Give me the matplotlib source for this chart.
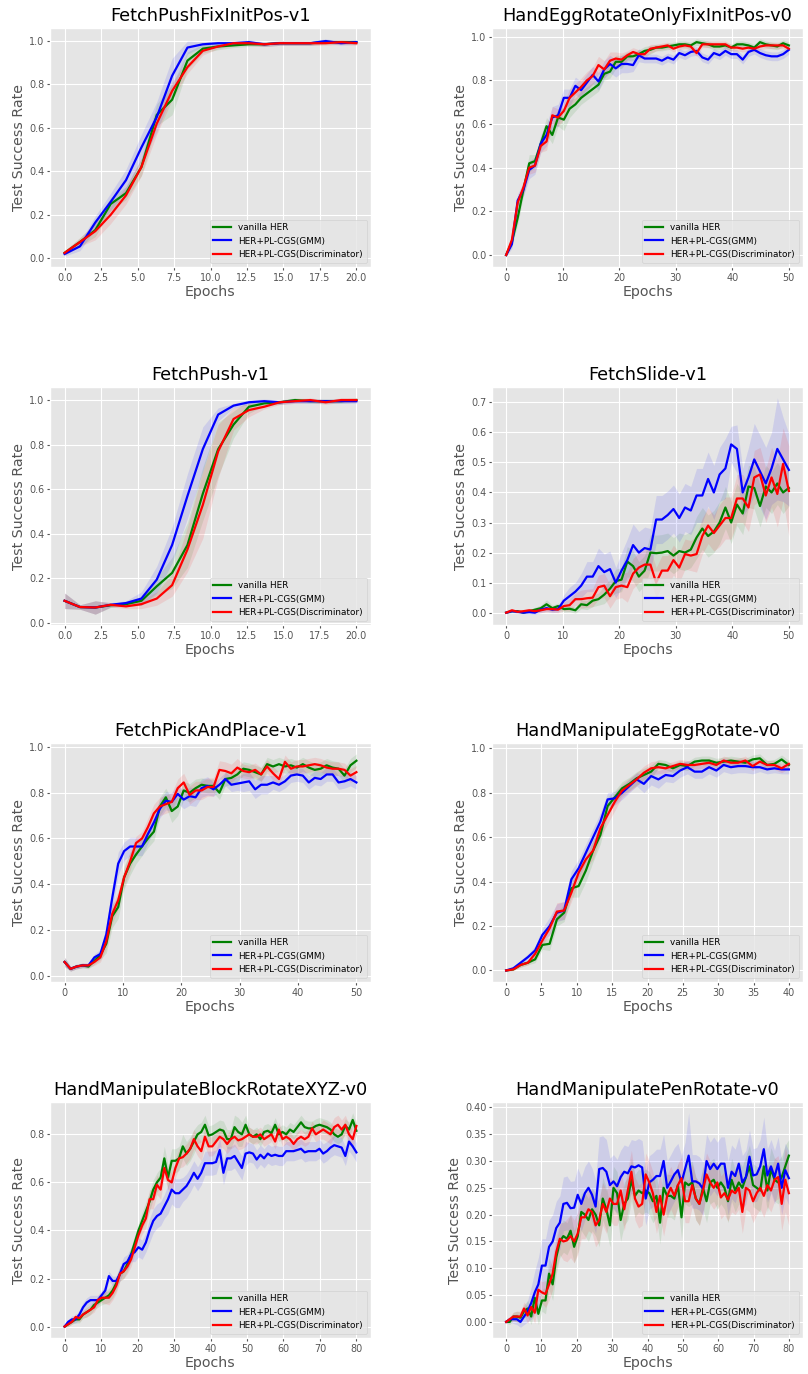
import numpy as np
import matplotlib
matplotlib.use("Agg")
import matplotlib.pyplot as plt
from matplotlib.ticker import MultipleLocator

plt.style.use('ggplot')

series_names = ['vanilla HER', 'HER+PL-CGS(GMM)', 'HER+PL-CGS(Discriminator)']
series_colors = ['g', 'b', 'r']

titles = ['FetchPushFixInitPos-v1', 'HandEggRotateOnlyFixInitPos-v0',
          'FetchPush-v1', 'FetchSlide-v1',
          'FetchPickAndPlace-v1', 'HandManipulateEggRotate-v0',
          'HandManipulateBlockRotateXYZ-v0', 'HandManipulatePenRotate-v0']
max_epochs = [20, 50, 20, 50, 50, 40, 80, 80]

# ---- FetchPushFixInitPos-v1 ----
p1_her = [0.025, 0.075, 0.13, 0.25, 0.30, 0.42, 0.66, 0.73, 0.91, 0.965,
          0.975, 0.98, 0.985, 0.985, 0.99, 0.99, 0.99, 0.995, 0.995, 0.995]
p1_gmm = [0.02, 0.055, 0.165, 0.26, 0.36, 0.51, 0.65, 0.84, 0.97, 0.985,
          0.99, 0.99, 0.995, 0.985, 0.99, 0.99, 0.99, 1.0, 0.99, 0.995]
p1_dis = [0.025, 0.075, 0.125, 0.20, 0.29, 0.42, 0.62, 0.77, 0.88, 0.955,
          0.975, 0.99, 0.99, 0.985, 0.99, 0.99, 0.99, 0.99, 0.995, 0.99]
p1_her_sd = [0.01, 0.02, 0.03, 0.03, 0.03, 0.04, 0.05, 0.07, 0.04, 0.02,
             0.015, 0.01, 0.01, 0.01, 0.01, 0.01, 0.01, 0.01, 0.01, 0.01]
p1_gmm_sd = [0.01, 0.02, 0.03, 0.04, 0.05, 0.06, 0.07, 0.08, 0.03, 0.01,
             0.01, 0.01, 0.01, 0.01, 0.01, 0.01, 0.01, 0.01, 0.01, 0.01]
p1_dis_sd = [0.01, 0.02, 0.04, 0.04, 0.04, 0.04, 0.05, 0.04, 0.03, 0.02,
             0.01, 0.01, 0.01, 0.01, 0.01, 0.01, 0.01, 0.01, 0.01, 0.01]

# ---- HandEggRotateOnlyFixInitPos-v0 ----
p2_her = [0.0, 0.06, 0.17, 0.30, 0.42, 0.43, 0.51, 0.59, 0.55, 0.63,
          0.62, 0.67, 0.69, 0.72, 0.74, 0.76, 0.78, 0.83, 0.84, 0.885,
          0.885, 0.91, 0.91, 0.92, 0.935, 0.94, 0.95, 0.95, 0.955, 0.96,
          0.965, 0.965, 0.96, 0.975, 0.97, 0.965, 0.955, 0.955, 0.96, 0.95,
          0.965, 0.965, 0.96, 0.95, 0.975, 0.965, 0.96, 0.955, 0.97, 0.96]
p2_gmm = [0.0, 0.05, 0.25, 0.30, 0.39, 0.41, 0.51, 0.55, 0.63, 0.64,
          0.72, 0.72, 0.775, 0.755, 0.79, 0.825, 0.795, 0.85, 0.875, 0.855,
          0.875, 0.875, 0.87, 0.915, 0.90, 0.90, 0.90, 0.89, 0.905, 0.895,
          0.925, 0.915, 0.93, 0.935, 0.905, 0.895, 0.925, 0.915, 0.935, 0.92,
          0.92, 0.895, 0.93, 0.94, 0.925, 0.915, 0.91, 0.91, 0.92, 0.94]
p2_dis = [0.0, 0.07, 0.24, 0.31, 0.40, 0.41, 0.50, 0.52, 0.64, 0.63,
          0.66, 0.72, 0.745, 0.77, 0.80, 0.82, 0.87, 0.85, 0.89, 0.90,
          0.895, 0.915, 0.93, 0.92, 0.92, 0.945, 0.95, 0.955, 0.96, 0.945,
          0.955, 0.96, 0.955, 0.925, 0.965, 0.965, 0.965, 0.965, 0.965, 0.95,
          0.95, 0.945, 0.95, 0.945, 0.955, 0.96, 0.96, 0.96, 0.96, 0.945]
p2_her_sd = [0.005, 0.02, 0.03, 0.03, 0.04, 0.03, 0.03, 0.04, 0.04, 0.04,
             0.05, 0.04, 0.03, 0.03, 0.03, 0.03, 0.03, 0.03, 0.03, 0.03,
             0.03, 0.02, 0.02, 0.02, 0.02, 0.02, 0.015, 0.015, 0.015, 0.015,
             0.015, 0.015, 0.015, 0.015, 0.015, 0.015, 0.015, 0.015, 0.015, 0.015,
             0.015, 0.015, 0.015, 0.015, 0.015, 0.015, 0.015, 0.015, 0.015, 0.015]
p2_gmm_sd = [0.005, 0.02, 0.03, 0.03, 0.04, 0.04, 0.04, 0.05, 0.05, 0.05,
             0.04, 0.04, 0.04, 0.04, 0.04, 0.04, 0.04, 0.04, 0.04, 0.04,
             0.04, 0.04, 0.03, 0.03, 0.02, 0.02, 0.02, 0.02, 0.02, 0.02,
             0.02, 0.02, 0.02, 0.02, 0.02, 0.02, 0.02, 0.02, 0.02, 0.02,
             0.02, 0.02, 0.02, 0.02, 0.02, 0.02, 0.02, 0.02, 0.02, 0.02]
p2_dis_sd = [0.005, 0.02, 0.03, 0.03, 0.03, 0.03, 0.03, 0.04, 0.04, 0.04,
             0.04, 0.04, 0.04, 0.04, 0.04, 0.04, 0.04, 0.04, 0.04, 0.03,
             0.03, 0.02, 0.02, 0.02, 0.02, 0.02, 0.015, 0.015, 0.015, 0.015,
             0.015, 0.015, 0.015, 0.015, 0.015, 0.015, 0.015, 0.015, 0.015, 0.015,
             0.015, 0.015, 0.015, 0.015, 0.015, 0.015, 0.015, 0.015, 0.015, 0.015]

# ---- FetchPush-v1 ----
p3_her = [0.10, 0.072, 0.07, 0.08, 0.085, 0.10, 0.165, 0.225, 0.35, 0.58,
          0.78, 0.89, 0.97, 0.985, 0.99, 1.0, 0.995, 0.995, 0.995, 1.0]
p3_gmm = [0.10, 0.072, 0.07, 0.082, 0.09, 0.11, 0.195, 0.35, 0.57, 0.78,
          0.935, 0.975, 0.99, 0.995, 0.99, 0.995, 0.995, 0.995, 0.995, 0.995]
p3_dis = [0.10, 0.072, 0.07, 0.082, 0.075, 0.085, 0.11, 0.17, 0.33, 0.53,
          0.77, 0.915, 0.955, 0.97, 0.99, 0.995, 1.0, 0.99, 1.0, 1.0]
p3_her_sd = [0.035, 0.01, 0.03, 0.01, 0.01, 0.02, 0.04, 0.07, 0.10, 0.12,
             0.12, 0.06, 0.03, 0.01, 0.01, 0.01, 0.01, 0.01, 0.01, 0.01]
p3_gmm_sd = [0.035, 0.01, 0.03, 0.01, 0.01, 0.03, 0.06, 0.08, 0.10, 0.10,
             0.03, 0.01, 0.01, 0.01, 0.01, 0.01, 0.01, 0.01, 0.01, 0.01]
p3_dis_sd = [0.035, 0.01, 0.03, 0.01, 0.01, 0.02, 0.03, 0.05, 0.10, 0.15,
             0.12, 0.05, 0.03, 0.01, 0.01, 0.01, 0.01, 0.01, 0.01, 0.01]

# ---- FetchSlide-v1 ----
p4_her = [0.0, 0.005, 0.005, 0.0, 0.005, 0.01, 0.015, 0.028, 0.015, 0.022,
          0.012, 0.013, 0.008, 0.028, 0.025, 0.04, 0.045, 0.06, 0.08, 0.105,
          0.11, 0.17, 0.155, 0.12, 0.14, 0.20, 0.198, 0.20, 0.205, 0.19,
          0.205, 0.20, 0.21, 0.25, 0.28, 0.255, 0.27, 0.30, 0.35, 0.30,
          0.36, 0.33, 0.42, 0.415, 0.355, 0.42, 0.40, 0.43, 0.40, 0.415]
p4_gmm = [0.0, 0.005, 0.003, 0.0, 0.002, 0.0, 0.01, 0.015, 0.01, 0.012,
          0.04, 0.055, 0.07, 0.09, 0.12, 0.12, 0.155, 0.135, 0.145, 0.10,
          0.14, 0.175, 0.225, 0.20, 0.215, 0.21, 0.31, 0.31, 0.325, 0.345,
          0.315, 0.35, 0.34, 0.39, 0.39, 0.445, 0.40, 0.46, 0.48, 0.56,
          0.545, 0.40, 0.45, 0.51, 0.47, 0.43, 0.48, 0.545, 0.51, 0.475]
p4_dis = [0.0, 0.008, 0.003, 0.005, 0.008, 0.005, 0.008, 0.012, 0.012, 0.01,
          0.022, 0.025, 0.045, 0.045, 0.048, 0.05, 0.085, 0.09, 0.055, 0.085,
          0.09, 0.085, 0.13, 0.15, 0.16, 0.16, 0.10, 0.14, 0.14, 0.175,
          0.15, 0.195, 0.19, 0.195, 0.255, 0.29, 0.265, 0.29, 0.315, 0.315,
          0.38, 0.38, 0.35, 0.45, 0.46, 0.39, 0.45, 0.395, 0.495, 0.405]
p4_her_sd = [0.003, 0.005, 0.005, 0.003, 0.005, 0.008, 0.01, 0.015, 0.01, 0.01,
             0.01, 0.01, 0.01, 0.015, 0.015, 0.02, 0.02, 0.03, 0.03, 0.04,
             0.04, 0.05, 0.05, 0.05, 0.05, 0.06, 0.06, 0.06, 0.06, 0.06,
             0.06, 0.06, 0.06, 0.07, 0.07, 0.07, 0.07, 0.07, 0.07, 0.07,
             0.07, 0.07, 0.07, 0.07, 0.07, 0.07, 0.07, 0.07, 0.07, 0.06]
p4_gmm_sd = [0.003, 0.005, 0.005, 0.003, 0.005, 0.005, 0.01, 0.01, 0.01, 0.01,
             0.02, 0.03, 0.03, 0.04, 0.05, 0.05, 0.06, 0.06, 0.06, 0.05,
             0.06, 0.07, 0.07, 0.07, 0.07, 0.07, 0.08, 0.08, 0.08, 0.08,
             0.08, 0.08, 0.08, 0.09, 0.09, 0.09, 0.09, 0.09, 0.10, 0.06,
             0.08, 0.08, 0.10, 0.12, 0.12, 0.12, 0.12, 0.17, 0.14, 0.12]
p4_dis_sd = [0.003, 0.005, 0.005, 0.003, 0.005, 0.005, 0.008, 0.01, 0.01, 0.01,
             0.015, 0.02, 0.02, 0.03, 0.03, 0.03, 0.04, 0.04, 0.04, 0.04,
             0.04, 0.05, 0.05, 0.05, 0.05, 0.05, 0.05, 0.05, 0.05, 0.05,
             0.05, 0.05, 0.05, 0.06, 0.06, 0.06, 0.06, 0.07, 0.07, 0.07,
             0.08, 0.08, 0.08, 0.09, 0.09, 0.09, 0.10, 0.11, 0.12, 0.15]

# ---- FetchPickAndPlace-v1 ----
p5_her = [0.06, 0.03, 0.04, 0.045, 0.04, 0.065, 0.09, 0.14, 0.26, 0.30,
          0.43, 0.49, 0.53, 0.565, 0.60, 0.63, 0.74, 0.78, 0.72, 0.74,
          0.81, 0.80, 0.82, 0.835, 0.83, 0.83, 0.80, 0.86, 0.865, 0.88,
          0.905, 0.90, 0.89, 0.88, 0.925, 0.915, 0.925, 0.915, 0.92, 0.91,
          0.925, 0.91, 0.90, 0.905, 0.92, 0.91, 0.905, 0.875, 0.92, 0.94]
p5_gmm = [0.06, 0.03, 0.04, 0.045, 0.045, 0.08, 0.095, 0.18, 0.34, 0.49,
          0.545, 0.565, 0.565, 0.565, 0.62, 0.67, 0.73, 0.765, 0.76, 0.795,
          0.77, 0.785, 0.78, 0.82, 0.83, 0.815, 0.835, 0.86, 0.835, 0.84,
          0.845, 0.85, 0.815, 0.835, 0.835, 0.845, 0.835, 0.85, 0.875, 0.88,
          0.875, 0.845, 0.865, 0.86, 0.88, 0.88, 0.845, 0.85, 0.86, 0.845]
p5_dis = [0.06, 0.03, 0.04, 0.045, 0.045, 0.06, 0.08, 0.15, 0.27, 0.33,
          0.43, 0.50, 0.58, 0.60, 0.65, 0.71, 0.74, 0.75, 0.76, 0.82,
          0.845, 0.79, 0.81, 0.81, 0.825, 0.825, 0.90, 0.895, 0.885, 0.91,
          0.895, 0.89, 0.90, 0.88, 0.915, 0.885, 0.86, 0.935, 0.905, 0.915,
          0.915, 0.92, 0.925, 0.92, 0.91, 0.905, 0.905, 0.90, 0.875, 0.89]
p5_her_sd = [0.02, 0.01, 0.01, 0.01, 0.01, 0.015, 0.02, 0.04, 0.05, 0.05,
             0.05, 0.05, 0.04, 0.04, 0.04, 0.04, 0.04, 0.04, 0.05, 0.04,
             0.04, 0.04, 0.04, 0.03, 0.03, 0.03, 0.03, 0.03, 0.03, 0.03,
             0.03, 0.03, 0.03, 0.03, 0.03, 0.03, 0.03, 0.03, 0.03, 0.03,
             0.03, 0.03, 0.03, 0.03, 0.03, 0.03, 0.03, 0.03, 0.03, 0.03]
p5_gmm_sd = [0.02, 0.01, 0.01, 0.01, 0.01, 0.015, 0.02, 0.04, 0.05, 0.05,
             0.04, 0.04, 0.04, 0.04, 0.04, 0.04, 0.04, 0.04, 0.04, 0.04,
             0.04, 0.04, 0.04, 0.04, 0.04, 0.03, 0.03, 0.03, 0.03, 0.03,
             0.04, 0.04, 0.04, 0.04, 0.04, 0.03, 0.03, 0.03, 0.03, 0.03,
             0.03, 0.03, 0.03, 0.03, 0.03, 0.03, 0.03, 0.03, 0.03, 0.03]
p5_dis_sd = [0.02, 0.01, 0.01, 0.01, 0.01, 0.015, 0.02, 0.03, 0.04, 0.04,
             0.04, 0.04, 0.03, 0.03, 0.04, 0.04, 0.04, 0.04, 0.04, 0.04,
             0.04, 0.04, 0.04, 0.04, 0.04, 0.04, 0.04, 0.04, 0.04, 0.04,
             0.03, 0.03, 0.03, 0.03, 0.03, 0.03, 0.03, 0.03, 0.03, 0.03,
             0.03, 0.03, 0.03, 0.03, 0.03, 0.03, 0.03, 0.03, 0.03, 0.03]

# ---- HandManipulateEggRotate-v0 ----
p6_her = [0.0, 0.005, 0.025, 0.035, 0.05, 0.115, 0.12, 0.23, 0.26, 0.37,
          0.38, 0.45, 0.54, 0.61, 0.74, 0.78, 0.82, 0.84, 0.865, 0.88,
          0.895, 0.93, 0.925, 0.91, 0.925, 0.92, 0.94, 0.945, 0.945, 0.935,
          0.94, 0.945, 0.94, 0.935, 0.95, 0.955, 0.925, 0.93, 0.95, 0.925]
p6_gmm = [0.0, 0.01, 0.035, 0.06, 0.09, 0.16, 0.20, 0.26, 0.27, 0.41,
          0.46, 0.53, 0.60, 0.67, 0.77, 0.775, 0.80, 0.83, 0.86, 0.84,
          0.875, 0.86, 0.88, 0.875, 0.90, 0.915, 0.895, 0.895, 0.915, 0.90,
          0.925, 0.915, 0.92, 0.92, 0.915, 0.915, 0.905, 0.91, 0.905, 0.905]
p6_dis = [0.0, 0.005, 0.025, 0.035, 0.075, 0.135, 0.19, 0.265, 0.27, 0.35,
          0.44, 0.50, 0.54, 0.64, 0.70, 0.76, 0.81, 0.835, 0.86, 0.89,
          0.91, 0.915, 0.91, 0.92, 0.93, 0.925, 0.925, 0.93, 0.935, 0.925,
          0.945, 0.935, 0.935, 0.945, 0.92, 0.94, 0.925, 0.925, 0.91, 0.93]
p6_her_sd = [0.003, 0.005, 0.01, 0.01, 0.015, 0.02, 0.03, 0.03, 0.04, 0.04,
             0.05, 0.05, 0.05, 0.04, 0.04, 0.03, 0.03, 0.03, 0.03, 0.03,
             0.03, 0.02, 0.02, 0.02, 0.02, 0.02, 0.02, 0.02, 0.02, 0.02,
             0.02, 0.02, 0.02, 0.02, 0.02, 0.02, 0.02, 0.02, 0.02, 0.02]
p6_gmm_sd = [0.003, 0.005, 0.01, 0.015, 0.02, 0.03, 0.04, 0.04, 0.04, 0.04,
             0.04, 0.04, 0.04, 0.04, 0.03, 0.03, 0.03, 0.03, 0.03, 0.04,
             0.04, 0.04, 0.03, 0.03, 0.03, 0.03, 0.03, 0.03, 0.03, 0.03,
             0.03, 0.03, 0.03, 0.03, 0.03, 0.02, 0.02, 0.02, 0.02, 0.02]
p6_dis_sd = [0.003, 0.005, 0.01, 0.01, 0.015, 0.02, 0.03, 0.04, 0.04, 0.04,
             0.04, 0.04, 0.04, 0.04, 0.04, 0.04, 0.03, 0.03, 0.03, 0.03,
             0.03, 0.03, 0.02, 0.02, 0.02, 0.02, 0.02, 0.02, 0.02, 0.02,
             0.02, 0.02, 0.02, 0.02, 0.02, 0.02, 0.02, 0.02, 0.02, 0.02]

# ---- HandManipulateBlockRotateXYZ-v0 ----
p7_her = [0.0, 0.01, 0.02, 0.03, 0.03, 0.05, 0.06, 0.07, 0.09, 0.10,
          0.11, 0.12, 0.13, 0.15, 0.18, 0.22, 0.23, 0.26, 0.30, 0.35,
          0.40, 0.44, 0.48, 0.52, 0.57, 0.60, 0.62, 0.70, 0.62, 0.69,
          0.69, 0.70, 0.75, 0.72, 0.74, 0.77, 0.80, 0.81, 0.84, 0.795,
          0.80, 0.81, 0.82, 0.815, 0.78, 0.78, 0.83, 0.81, 0.80, 0.84,
          0.80, 0.79, 0.80, 0.78, 0.81, 0.815, 0.805, 0.84, 0.80, 0.81,
          0.80, 0.82, 0.81, 0.83, 0.85, 0.83, 0.825, 0.825, 0.835, 0.84,
          0.835, 0.83, 0.82, 0.80, 0.79, 0.80, 0.835, 0.82, 0.86, 0.815]
p7_gmm = [0.0, 0.02, 0.03, 0.03, 0.05, 0.08, 0.10, 0.11, 0.11, 0.11,
          0.13, 0.15, 0.21, 0.19, 0.19, 0.22, 0.26, 0.27, 0.30, 0.31,
          0.33, 0.32, 0.35, 0.40, 0.44, 0.46, 0.47, 0.50, 0.53, 0.57,
          0.555, 0.555, 0.57, 0.585, 0.61, 0.64, 0.615, 0.64, 0.68, 0.68,
          0.68, 0.685, 0.735, 0.64, 0.70, 0.70, 0.71, 0.685, 0.66, 0.72,
          0.725, 0.72, 0.695, 0.715, 0.70, 0.72, 0.71, 0.715, 0.71, 0.71,
          0.73, 0.73, 0.73, 0.735, 0.74, 0.725, 0.73, 0.73, 0.73, 0.74,
          0.72, 0.73, 0.745, 0.755, 0.75, 0.745, 0.71, 0.77, 0.75, 0.725]
p7_dis = [0.0, 0.01, 0.02, 0.04, 0.035, 0.05, 0.06, 0.07, 0.08, 0.11,
          0.12, 0.12, 0.12, 0.14, 0.17, 0.22, 0.23, 0.25, 0.28, 0.33,
          0.38, 0.42, 0.45, 0.53, 0.53, 0.59, 0.57, 0.66, 0.61, 0.60,
          0.66, 0.70, 0.705, 0.72, 0.74, 0.78, 0.75, 0.73, 0.79, 0.75,
          0.75, 0.77, 0.79, 0.78, 0.76, 0.78, 0.79, 0.775, 0.78, 0.79,
          0.80, 0.79, 0.79, 0.80, 0.78, 0.79, 0.80, 0.77, 0.82, 0.78,
          0.79, 0.78, 0.76, 0.78, 0.79, 0.78, 0.79, 0.825, 0.80, 0.81,
          0.82, 0.81, 0.80, 0.83, 0.84, 0.82, 0.84, 0.80, 0.78, 0.835]
p7_her_sd = [0.003, 0.01, 0.01, 0.015, 0.015, 0.015, 0.02, 0.02, 0.02, 0.02,
             0.02, 0.025, 0.03, 0.03, 0.03, 0.03, 0.03, 0.03, 0.03, 0.03,
             0.03, 0.035, 0.04, 0.04, 0.04, 0.04, 0.04, 0.05, 0.05, 0.05,
             0.05, 0.05, 0.05, 0.05, 0.05, 0.05, 0.04, 0.04, 0.04, 0.04,
             0.04, 0.04, 0.04, 0.04, 0.04, 0.04, 0.05, 0.06, 0.05, 0.04,
             0.03, 0.03, 0.03, 0.03, 0.03, 0.03, 0.03, 0.03, 0.03, 0.03,
             0.03, 0.03, 0.03, 0.03, 0.03, 0.03, 0.03, 0.03, 0.03, 0.03,
             0.03, 0.03, 0.03, 0.03, 0.03, 0.03, 0.03, 0.03, 0.03, 0.03]
p7_gmm_sd = [0.003, 0.01, 0.015, 0.015, 0.02, 0.02, 0.02, 0.02, 0.02, 0.02,
             0.02, 0.02, 0.02, 0.02, 0.02, 0.03, 0.03, 0.03, 0.03, 0.04,
             0.04, 0.04, 0.04, 0.05, 0.05, 0.05, 0.05, 0.05, 0.06, 0.06,
             0.06, 0.06, 0.05, 0.05, 0.05, 0.05, 0.05, 0.05, 0.05, 0.05,
             0.05, 0.05, 0.05, 0.05, 0.05, 0.05, 0.05, 0.05, 0.05, 0.05,
             0.04, 0.04, 0.04, 0.04, 0.04, 0.04, 0.04, 0.04, 0.04, 0.04,
             0.04, 0.04, 0.04, 0.04, 0.04, 0.04, 0.04, 0.04, 0.04, 0.04,
             0.04, 0.04, 0.04, 0.04, 0.04, 0.04, 0.04, 0.04, 0.04, 0.04]
p7_dis_sd = [0.003, 0.01, 0.01, 0.015, 0.015, 0.015, 0.02, 0.02, 0.02, 0.02,
             0.02, 0.025, 0.03, 0.03, 0.03, 0.03, 0.03, 0.03, 0.03, 0.03,
             0.03, 0.035, 0.04, 0.04, 0.04, 0.04, 0.04, 0.04, 0.04, 0.04,
             0.04, 0.04, 0.04, 0.04, 0.04, 0.04, 0.04, 0.04, 0.04, 0.04,
             0.04, 0.04, 0.04, 0.04, 0.04, 0.04, 0.04, 0.04, 0.04, 0.04,
             0.03, 0.03, 0.03, 0.03, 0.03, 0.03, 0.03, 0.03, 0.03, 0.03,
             0.03, 0.03, 0.03, 0.03, 0.03, 0.03, 0.03, 0.03, 0.03, 0.03,
             0.04, 0.04, 0.04, 0.04, 0.04, 0.04, 0.04, 0.04, 0.04, 0.03]

# ---- HandManipulatePenRotate-v0 ----
p8_her = [0.0, 0.0, 0.01, 0.01, 0.008, 0.02, 0.025, 0.01, 0.045, 0.015,
          0.04, 0.04, 0.09, 0.07, 0.12, 0.15, 0.16, 0.155, 0.17, 0.14,
          0.16, 0.205, 0.20, 0.19, 0.21, 0.20, 0.18, 0.23, 0.21, 0.18,
          0.25, 0.24, 0.19, 0.22, 0.23, 0.265, 0.235, 0.245, 0.24, 0.245,
          0.24, 0.225, 0.235, 0.185, 0.25, 0.235, 0.235, 0.23, 0.255, 0.195,
          0.26, 0.255, 0.26, 0.23, 0.22, 0.25, 0.225, 0.26, 0.265, 0.25,
          0.26, 0.25, 0.225, 0.265, 0.245, 0.26, 0.25, 0.27, 0.29, 0.255,
          0.25, 0.245, 0.29, 0.245, 0.285, 0.265, 0.26, 0.27, 0.29, 0.31]
p8_gmm = [0.0, 0.005, 0.005, 0.005, 0.0, 0.01, 0.02, 0.035, 0.055, 0.07,
          0.105, 0.105, 0.14, 0.15, 0.175, 0.185, 0.22, 0.222, 0.212, 0.213,
          0.237, 0.22, 0.24, 0.25, 0.237, 0.215, 0.285, 0.287, 0.28, 0.255,
          0.262, 0.253, 0.27, 0.28, 0.277, 0.29, 0.288, 0.292, 0.288, 0.23,
          0.26, 0.265, 0.272, 0.272, 0.30, 0.25, 0.262, 0.275, 0.283, 0.26,
          0.285, 0.31, 0.262, 0.262, 0.258, 0.248, 0.30, 0.285, 0.295, 0.285,
          0.295, 0.295, 0.25, 0.28, 0.272, 0.295, 0.26, 0.27, 0.308, 0.273,
          0.275, 0.29, 0.322, 0.273, 0.29, 0.27, 0.295, 0.25, 0.283, 0.268]
p8_dis = [0.0, 0.005, 0.01, 0.01, 0.01, 0.025, 0.012, 0.028, 0.017, 0.06,
          0.055, 0.052, 0.07, 0.09, 0.13, 0.155, 0.15, 0.152, 0.16, 0.15,
          0.165, 0.195, 0.195, 0.21, 0.205, 0.18, 0.19, 0.22, 0.205, 0.23,
          0.22, 0.22, 0.245, 0.21, 0.245, 0.28, 0.23, 0.215, 0.22, 0.275,
          0.26, 0.24, 0.205, 0.235, 0.20, 0.235, 0.25, 0.235, 0.255, 0.268,
          0.225, 0.225, 0.255, 0.23, 0.22, 0.245, 0.275, 0.26, 0.25, 0.26,
          0.232, 0.24, 0.228, 0.245, 0.24, 0.25, 0.205, 0.25, 0.245, 0.225,
          0.24, 0.25, 0.235, 0.255, 0.245, 0.265, 0.27, 0.22, 0.265, 0.24]
p8_her_sd = [0.002, 0.005, 0.008, 0.01, 0.01, 0.012, 0.015, 0.015, 0.02, 0.02,
             0.02, 0.025, 0.03, 0.03, 0.03, 0.03, 0.03, 0.03, 0.03, 0.03,
             0.03, 0.035, 0.04, 0.04, 0.04, 0.04, 0.04, 0.04, 0.04, 0.04,
             0.04, 0.04, 0.04, 0.04, 0.04, 0.04, 0.04, 0.04, 0.04, 0.04,
             0.04, 0.04, 0.04, 0.04, 0.04, 0.04, 0.04, 0.04, 0.04, 0.04,
             0.04, 0.04, 0.04, 0.04, 0.04, 0.04, 0.04, 0.04, 0.04, 0.04,
             0.04, 0.04, 0.04, 0.04, 0.04, 0.04, 0.04, 0.04, 0.04, 0.04,
             0.04, 0.04, 0.04, 0.04, 0.04, 0.04, 0.04, 0.04, 0.04, 0.03]
p8_gmm_sd = [0.002, 0.005, 0.008, 0.01, 0.01, 0.015, 0.02, 0.03, 0.04, 0.05,
             0.05, 0.05, 0.05, 0.05, 0.05, 0.05, 0.05, 0.05, 0.05, 0.05,
             0.05, 0.05, 0.05, 0.05, 0.05, 0.05, 0.06, 0.06, 0.06, 0.05,
             0.05, 0.05, 0.05, 0.05, 0.05, 0.05, 0.05, 0.05, 0.05, 0.05,
             0.05, 0.05, 0.05, 0.05, 0.05, 0.05, 0.05, 0.05, 0.05, 0.05,
             0.05, 0.08, 0.05, 0.05, 0.05, 0.05, 0.05, 0.05, 0.05, 0.05,
             0.05, 0.05, 0.05, 0.05, 0.05, 0.05, 0.05, 0.05, 0.05, 0.05,
             0.05, 0.05, 0.06, 0.05, 0.05, 0.05, 0.05, 0.05, 0.05, 0.05]
p8_dis_sd = [0.002, 0.005, 0.008, 0.01, 0.01, 0.012, 0.015, 0.015, 0.02, 0.02,
             0.02, 0.025, 0.03, 0.03, 0.03, 0.03, 0.035, 0.04, 0.04, 0.04,
             0.04, 0.04, 0.04, 0.04, 0.04, 0.04, 0.04, 0.04, 0.04, 0.04,
             0.04, 0.04, 0.04, 0.04, 0.04, 0.04, 0.04, 0.04, 0.04, 0.04,
             0.04, 0.04, 0.04, 0.04, 0.04, 0.04, 0.04, 0.04, 0.04, 0.04,
             0.04, 0.04, 0.04, 0.04, 0.04, 0.04, 0.04, 0.04, 0.04, 0.04,
             0.04, 0.04, 0.04, 0.04, 0.04, 0.04, 0.04, 0.04, 0.04, 0.04,
             0.04, 0.04, 0.04, 0.04, 0.04, 0.04, 0.04, 0.05, 0.06, 0.06]

means = [(p1_her, p1_gmm, p1_dis), (p2_her, p2_gmm, p2_dis),
         (p3_her, p3_gmm, p3_dis), (p4_her, p4_gmm, p4_dis),
         (p5_her, p5_gmm, p5_dis), (p6_her, p6_gmm, p6_dis),
         (p7_her, p7_gmm, p7_dis), (p8_her, p8_gmm, p8_dis)]
stds = [(p1_her_sd, p1_gmm_sd, p1_dis_sd), (p2_her_sd, p2_gmm_sd, p2_dis_sd),
        (p3_her_sd, p3_gmm_sd, p3_dis_sd), (p4_her_sd, p4_gmm_sd, p4_dis_sd),
        (p5_her_sd, p5_gmm_sd, p5_dis_sd), (p6_her_sd, p6_gmm_sd, p6_dis_sd),
        (p7_her_sd, p7_gmm_sd, p7_dis_sd), (p8_her_sd, p8_gmm_sd, p8_dis_sd)]

W, H = 808, 1374
fig = plt.figure(figsize=(W / 100, H / 100), dpi=100)

col_x = [(50, 321), (492, 311)]
row_y = [(28, 267), (387, 625), (743, 982), (1102, 1338)]

for k in range(8):
    r, c = divmod(k, 2)
    x0, w = col_x[c]
    top, bot = row_y[r]
    ax = fig.add_axes([x0 / W, 1 - bot / H, w / W, (bot - top) / H])
    for m, s, name, col in zip(means[k], stds[k], series_names, series_colors):
        m = np.array(m)
        s = np.array(s)
        x = np.linspace(0, max_epochs[k], len(m))
        ax.fill_between(x, m - s, m + s, color=col, alpha=0.1, linewidth=0)
        ax.plot(x, m, color=col, linewidth=1.6, label=name)
    ax.set_title(titles[k], fontsize=12.8, color='black', pad=5)
    ax.set_xlabel('Epochs', fontsize=10.2, color='#555555', labelpad=1.5)
    ax.set_ylabel('Test Success Rate', fontsize=10.2, color='#555555', labelpad=2.5)
    ax.tick_params(labelsize=6.9, colors='#555555', length=2.2, pad=1.8)
    if max_epochs[k] == 80:
        ax.xaxis.set_major_locator(MultipleLocator(10))
    ax.legend(loc='lower right', fontsize=6.4)

fig.savefig('out.png', dpi=100)
